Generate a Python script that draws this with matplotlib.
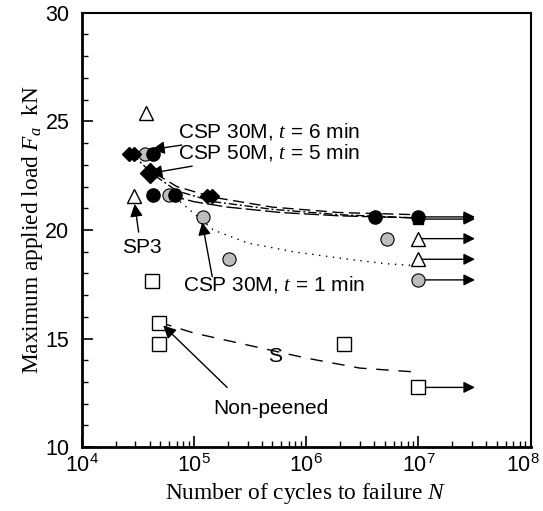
import matplotlib
matplotlib.use("Agg")
import matplotlib.pyplot as plt
import matplotlib.transforms as mtransforms
from matplotlib.ticker import MultipleLocator, LogLocator, NullFormatter

plt.rcParams['font.family'] = ['Liberation Sans', 'DejaVu Sans']
plt.rcParams['mathtext.fontset'] = 'custom'
plt.rcParams['mathtext.it'] = 'Liberation Serif:italic'
plt.rcParams['mathtext.rm'] = 'Liberation Serif'

# ---------------- data ----------------
# CSP 50M, t = 5 min (filled diamonds)
dia_N = [2.6e4, 2.9e4, 4.05e4, 1.3e5, 1.45e5]
dia_F = [23.5, 23.5, 22.6, 21.55, 21.55]
dia_run_F = 20.5
# CSP 30M, t = 6 min (filled circles)
blk_N = [4.3e4, 4.3e4, 6.8e4, 4.1e6]
blk_F = [23.5, 21.6, 21.6, 20.6]
blk_run_F = 20.6
# CSP 30M, t = 1 min (gray circles)
gry_N = [3.65e4, 6.0e4, 1.2e5, 2.05e5, 5.2e6]
gry_F = [23.5, 21.6, 20.6, 18.65, 19.6]
gry_run_F = 17.7
# SP3 (open triangles)
tri_N = [3.75e4, 2.9e4]
tri_F = [25.4, 21.55]
tri_run_F = [19.6, 18.65]
# Non-peened (open squares)
sq_N = [4.2e4, 4.9e4, 4.9e4, 2.15e6]
sq_F = [17.65, 15.7, 14.75, 14.75]
sq_run_F = 12.75

run_N = 1e7
run_end = 3.2e7

# fitted curves
curA_N = [4.5e4, 7e4, 1.5e5, 5e5, 2e6, 1e7]
curA_F = [22.6, 22.0, 21.5, 21.05, 20.8, 20.7]
curB_N = [2.8e4, 4.2e4, 7e4, 1.5e5, 5e5, 2e6, 1e7]
curB_F = [23.5, 22.6, 21.8, 21.3, 20.95, 20.7, 20.55]
curC_N = [6e4, 1e5, 2e5, 6e5, 2e6, 1e7]
curC_F = [21.6, 21.3, 21.05, 20.8, 20.65, 20.55]
curD_N = [7.5e4, 1.48e5, 3e5, 7.6e5, 2e6, 5e6, 1e7]
curD_F = [21.3, 20.0, 19.4, 19.0, 18.7, 18.45, 18.35]
curS_N = [4.9e4, 1e5, 3e5, 1e6, 3e6, 1e7]
curS_F = [15.75, 15.25, 14.7, 14.1, 13.64, 13.45]

xticks = [1e4, 1e5, 1e6, 1e7, 1e8]
yticks = [10, 15, 20, 25, 30]

# ---------------- figure ----------------
fig = plt.figure(figsize=(5.43, 5.11), dpi=100)
ax = fig.add_axes([0.151, 0.125, 0.826, 0.850])
ax.set_xscale('log')
ax.set_xlim(1e4, 1e8)
ax.set_ylim(10, 30)

lw = 1.0
ax.plot(curA_N, curA_F, color='k', lw=lw, dashes=(8, 4))
ax.plot(curB_N, curB_F, color='k', lw=lw, dashes=(6, 2, 1.5, 2))
ax.plot(curC_N, curC_F, color='k', lw=lw, dashes=(11, 3))
ax.plot(curD_N, curD_F, color='k', lw=1.0, dashes=(1, 4))
ax.plot(curS_N, curS_F, color='k', lw=lw, dashes=(9, 7))

ms = 9.5
# runout arrows
def runout(y):
    ax.annotate('', xy=(run_end, y), xytext=(run_N, y),
                arrowprops=dict(arrowstyle='-|>', mutation_scale=17, lw=1.0,
                                color='k', shrinkA=0, shrinkB=0), zorder=2)

for y in [dia_run_F, blk_run_F, gry_run_F, sq_run_F] + tri_run_F:
    runout(y)

ax.plot(gry_N, gry_F, 'o', ms=ms, mfc='#bdbdbd', mec='k', mew=0.8, ls='none', zorder=3)
ax.plot([run_N], [gry_run_F], 'o', ms=ms, mfc='#bdbdbd', mec='k', mew=0.8, zorder=3)
ax.plot(blk_N, blk_F, 'o', ms=ms, mfc='k', mec='k', ls='none', zorder=4)
ax.plot([run_N], [blk_run_F], 'o', ms=ms, mfc='k', mec='k', zorder=4)
ax.plot(dia_N[:2] + dia_N[3:], dia_F[:2] + dia_F[3:], 'D', ms=7.5, mfc='k', mec='k', ls='none', zorder=4)
ax.plot([dia_N[2]], [dia_F[2]], 'D', ms=10, mfc='k', mec='k', zorder=4)
ax.plot([run_N], [dia_run_F], 's', ms=7, mfc='k', mec='k', zorder=4)
ax.plot(tri_N, tri_F, '^', ms=ms, mfc='white', mec='k', mew=1.0, ls='none', zorder=3)
ax.plot([run_N] * 2, tri_run_F, '^', ms=ms, mfc='white', mec='k', mew=1.0, ls='none', zorder=3)
ax.plot(sq_N, sq_F, 's', ms=ms, mfc='white', mec='k', mew=1.0, ls='none', zorder=3)
ax.plot([run_N], [sq_run_F], 's', ms=ms, mfc='white', mec='k', mew=1.0, zorder=3)

# annotations
ap = dict(arrowstyle='-|>', mutation_scale=19, lw=1.0, color='k', shrinkA=0, shrinkB=0)
fs = 15
ax.annotate('CSP 30M, $t$ = 6 min', xy=(4.2e4, 23.7), xytext=(7.2e4, 24.52),
            fontsize=fs, va='center', ha='left', arrowprops=ap, zorder=5)
ax.annotate('CSP 50M, $t$ = 5 min', xy=(4.0e4, 22.6), xytext=(7.2e4, 23.55),
            fontsize=fs, va='center', ha='left', arrowprops=ap, zorder=5)
ax.annotate('SP3', xy=(2.95e4, 21.2), xytext=(3.43e4, 19.17),
            fontsize=fs, va='center', ha='center', zorder=5)
ax.annotate('', xy=(2.95e4, 21.2), xytext=(3.2e4, 19.9), arrowprops=ap, zorder=5)
ax.annotate('CSP 30M, $t$ = 1 min', xy=(1.18e5, 20.35), xytext=(7.97e4, 17.47),
            fontsize=fs, va='center', ha='left', zorder=5)
ax.annotate('', xy=(1.18e5, 20.35), xytext=(1.45e5, 17.85), arrowprops=ap, zorder=5)
ax.annotate('Non-peened', xy=(5.3e4, 15.6), xytext=(4.8e5, 11.8),
            fontsize=fs, va='center', ha='center', zorder=5)
ax.annotate('', xy=(5.3e4, 15.6), xytext=(1.97e5, 12.75), arrowprops=ap, zorder=5)
ax.text(5.3e5, 14.15, 'S', fontsize=fs, ha='center', va='center')

# axes styling
ax.set_xticks(xticks)
ax.set_yticks(yticks)
ax.yaxis.set_minor_locator(MultipleLocator(1))
ax.xaxis.set_minor_locator(LogLocator(base=10, subs=range(2, 10)))
ax.xaxis.set_minor_formatter(NullFormatter())
ax.tick_params(axis='both', which='major', direction='in', length=8, width=1.2,
               labelsize=15.5, top=False, right=False)
ax.tick_params(axis='x', which='major', pad=5)
ax.tick_params(axis='y', which='major', pad=9)
ax.tick_params(axis='both', which='minor', direction='in', length=4.5, width=1.0,
               top=False, right=False)
for s in ['left', 'bottom']:
    ax.spines[s].set_linewidth(2.0)
for s in ['top', 'right']:
    ax.spines[s].set_linewidth(1.5)

ax.set_xlabel('Number of cycles to failure $N$', family='Liberation Serif', fontsize=16.8, labelpad=3)
ax.set_ylabel('Maximum applied load $F_a$  kN', family='Liberation Serif', fontsize=16.8)
ax.yaxis.set_label_coords(-0.082, 0.5)

fig.canvas.draw()
last = ax.get_xticklabels()[-1]
last.set_transform(last.get_transform() + mtransforms.ScaledTranslation(-8 / 100, 0, fig.dpi_scale_trans))

fig.savefig('out.png', dpi=100)
